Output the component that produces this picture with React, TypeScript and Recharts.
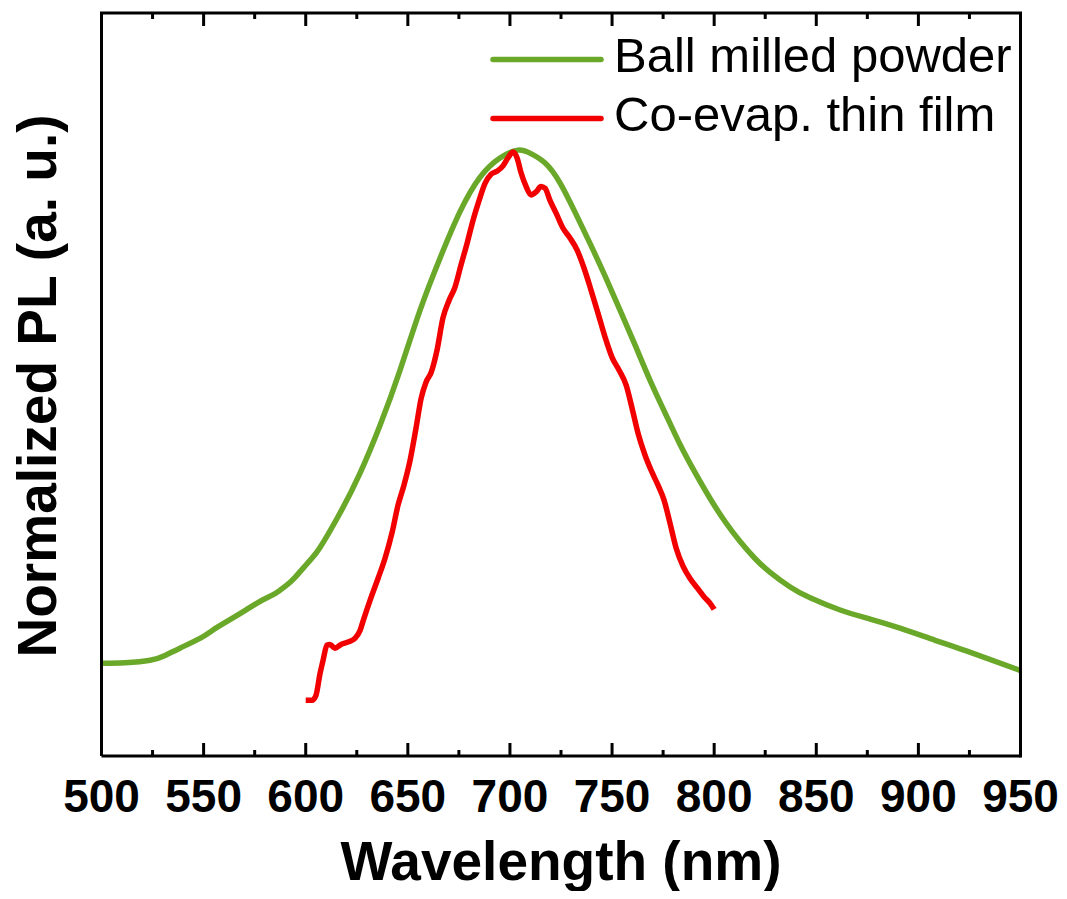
import React from 'react';
import { LineChart, Line, XAxis, YAxis, Legend } from 'recharts';

// ---- data (wavelength in nm, normalized PL) ----
const powderWavelength = [500, 511.5, 523.8, 531.1, 538.4, 548.2, 554.6, 562.9, 571.2, 578.6, 585.0, 589.9, 594.8, 602.1, 607.0, 616.8, 626.6, 636.4, 646.2, 656.0, 665.8, 675.5, 685.3, 695.1, 703.9, 709.8, 717.1, 724.5, 731.8, 739.2, 746.6, 753.9, 761.3, 768.6, 776.0, 783.3, 790.6, 798.0, 805.3, 812.7, 820.0, 827.4, 837.2, 847.0, 861.7, 876.4, 891.0, 908.2, 923.8, 950];
const powderPL = [0.153, 0.154, 0.158, 0.166, 0.178, 0.194, 0.208, 0.225, 0.242, 0.257, 0.268, 0.280, 0.295, 0.323, 0.344, 0.401, 0.467, 0.546, 0.637, 0.736, 0.822, 0.898, 0.955, 0.987, 1.0, 0.995, 0.979, 0.946, 0.898, 0.846, 0.792, 0.736, 0.678, 0.62, 0.566, 0.514, 0.468, 0.425, 0.387, 0.354, 0.326, 0.303, 0.279, 0.261, 0.241, 0.226, 0.211, 0.191, 0.173, 0.141];

const filmWavelength = [600, 603.1, 605.0, 607.0, 608.5, 610.4, 611.9, 614.3, 617.3, 620.7, 624.1, 626.6, 628.2, 631.5, 635.4, 638.8, 642.3, 645.2, 648.1, 651.1, 654.0, 656.5, 658.9, 661.4, 664.3, 667.2, 670.2, 673.1, 676.0, 679.0, 681.9, 684.9, 687.8, 690.7, 693.6, 696.6, 699.0, 701.5, 703.5, 705.4, 707.9, 710.3, 712.8, 715.2, 717.2, 719.6, 722.6, 726.0, 729.4, 732.9, 736.3, 739.7, 743.1, 746.6, 750.0, 753.4, 756.9, 759.8, 762.7, 766.2, 769.6, 772.5, 775.5, 778.4, 781.4, 784.8, 788.2, 791.6, 795.0, 798.0, 800.0];
const filmPL = [0.092, 0.092, 0.1, 0.136, 0.158, 0.183, 0.184, 0.178, 0.184, 0.188, 0.194, 0.207, 0.224, 0.257, 0.293, 0.326, 0.369, 0.414, 0.447, 0.488, 0.541, 0.59, 0.617, 0.633, 0.67, 0.723, 0.752, 0.774, 0.81, 0.846, 0.884, 0.917, 0.945, 0.96, 0.965, 0.974, 0.987, 0.997, 0.987, 0.963, 0.94, 0.926, 0.931, 0.94, 0.937, 0.917, 0.896, 0.871, 0.855, 0.835, 0.805, 0.769, 0.731, 0.691, 0.658, 0.637, 0.612, 0.574, 0.533, 0.496, 0.468, 0.447, 0.422, 0.384, 0.343, 0.313, 0.293, 0.278, 0.263, 0.252, 0.242];

const seriesNames = ['Ball milled powder', 'Co-evap. thin film'];
const seriesColors = ['#6aa82a', '#f20000'];
const xTicks = [500, 525, 550, 575, 600, 625, 650, 675, 700, 725, 750, 775, 800, 825, 850, 875, 900, 925, 950];
const xDomain = [500, 950];
const yDomain = [0, 1.2263];
const xTitle = 'Wavelength (nm)';
const yTitle = 'Normalized PL (a. u.)';

const powderData = powderWavelength.map((w, i) => ({ w, v: powderPL[i] }));
const filmData = filmWavelength.map((w, i) => ({ w, v: filmPL[i] }));

// ---- layout ----
const FONT = "'Liberation Sans', Arial, Helvetica, sans-serif";
const CHART_W = 1051;
const CHART_H = 883;
const MARGIN = { top: 5, right: 38.5, bottom: 0, left: 0 };
const XAXIS_H = 135;
const YAXIS_W = 93.5;
const PLOT_H = CHART_H - MARGIN.top - MARGIN.bottom - XAXIS_H;
const PLOT_W = CHART_W - MARGIN.left - MARGIN.right - YAXIS_W;
const MAJOR_LEN = 13;
const MINOR_LEN = 6;

const isMajor = (v: number) => v % 50 === 0;

// Bottom tick (inward) + label, plus the mirrored tick on the top frame edge.
const FrameTick = (props: any) => {
  const { x, y, payload } = props;
  const major = isMajor(payload.value);
  const len = major ? MAJOR_LEN : MINOR_LEN;
  const top = y - PLOT_H;
  return (
    <g>
      <line x1={x} y1={y} x2={x} y2={y - len} stroke="#000" strokeWidth={3} />
      <line x1={x} y1={top} x2={x} y2={top + len} stroke="#000" strokeWidth={3} />
      {major && (
        <text x={x} y={y + 56} textAnchor="middle" fontSize={46} fontWeight="bold" fontFamily={FONT} fill="#000">
          {payload.value}
        </text>
      )}
    </g>
  );
};

const XTitle = (props: any) => {
  const vb = props.viewBox || {};
  return (
    <text x={vb.x + vb.width / 2} y={vb.y + 124} textAnchor="middle" fontSize={55} fontWeight="bold" fontFamily={FONT} fill="#000">
      {xTitle}
    </text>
  );
};

// Y title; also closes the plot frame (top and right edges) from the axis' own viewBox.
const YTitle = (props: any) => {
  const vb = props.viewBox || {};
  const cx = vb.x + 48;
  const cy = vb.y + vb.height / 2 + 1.5;
  const left = vb.x + vb.width;
  const top = vb.y;
  const bottom = vb.y + vb.height;
  return (
    <g>
      <path d={`M${left},${top} L${left + PLOT_W},${top} L${left + PLOT_W},${bottom}`} fill="none" stroke="#000" strokeWidth={3} strokeLinecap="square" />
      <text x={cx} y={cy} transform={`rotate(-90, ${cx}, ${cy})`} textAnchor="middle" fontSize={55} fontWeight="bold" fontFamily={FONT} fill="#000">
        {yTitle}
      </text>
    </g>
  );
};

const LegendContent = (props: any) => {
  const payload = props.payload || [];
  return (
    <div>
      {payload.map((entry: any, i: number) => (
        <div key={i} style={{ display: 'flex', alignItems: 'center', height: 59 }}>
          <svg width={114} height={59} style={{ display: 'block' }}>
            <line x1={3} y1={29.5} x2={111} y2={29.5} stroke={entry.color} strokeWidth={5.5} strokeLinecap="round" />
          </svg>
          <span style={{ marginLeft: 10, fontSize: 49, lineHeight: '59px', fontFamily: FONT, color: '#000', whiteSpace: 'nowrap', position: 'relative', top: -4 }}>
            {entry.value}
          </span>
        </div>
      ))}
    </div>
  );
};

export default function App() {
  const axisLine = { stroke: '#000', strokeWidth: 3 };
  return (
    <div style={{ width: CHART_W, height: CHART_H }}>
      <LineChart width={CHART_W} height={CHART_H} margin={MARGIN}>
        <XAxis xAxisId="b" type="number" dataKey="w" domain={xDomain} ticks={xTicks} interval={0} orientation="bottom" height={XAXIS_H}
          tickSize={0} tickMargin={0} tickLine={false} axisLine={axisLine} tick={<FrameTick />} label={<XTitle />} />
        <YAxis yAxisId="l" type="number" domain={yDomain} orientation="left" width={YAXIS_W} tick={false} tickLine={false} axisLine={axisLine} label={<YTitle />} />
        <Legend layout="horizontal" verticalAlign="middle" align="center" content={<LegendContent />}
          wrapperStyle={{ top: 21.5, left: 482, width: 'auto', height: 'auto' }} />
        <Line xAxisId="b" yAxisId="l" data={powderData} dataKey="v" name={seriesNames[0]} type="natural" stroke={seriesColors[0]} strokeWidth={5.5} dot={false} activeDot={false} isAnimationActive={false} strokeLinejoin="round" />
        <Line xAxisId="b" yAxisId="l" data={filmData} dataKey="v" name={seriesNames[1]} type="monotone" stroke={seriesColors[1]} strokeWidth={5.5} dot={false} activeDot={false} isAnimationActive={false} strokeLinejoin="round" />
      </LineChart>
    </div>
  );
}
